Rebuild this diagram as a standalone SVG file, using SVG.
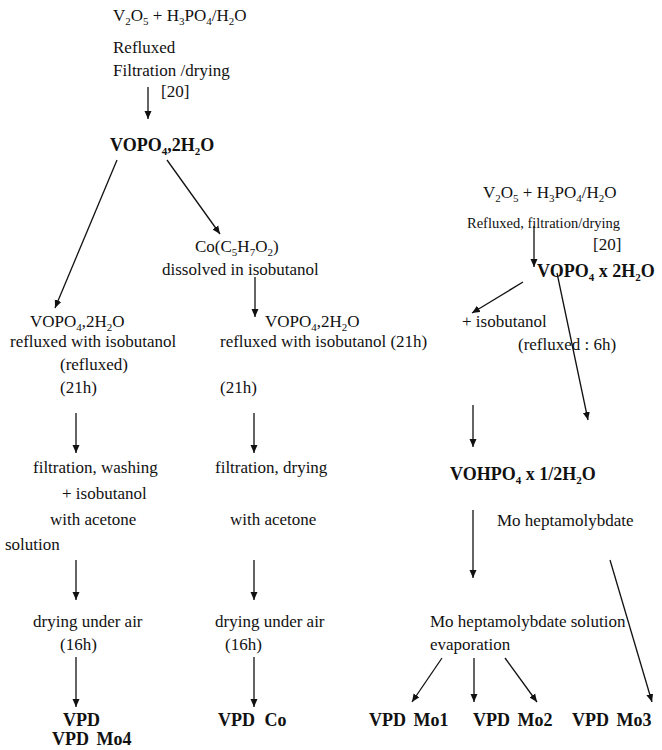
<svg xmlns="http://www.w3.org/2000/svg" width="662" height="750" viewBox="0 0 662 750">
<style>
text{font-family:"Liberation Serif","Times New Roman",serif;font-size:17px;fill:#111}
.b{font-weight:bold;font-size:18px}
.sm{font-size:14.5px}
.s{font-size:11px}
.cn line{stroke:#111;stroke-width:1.3;marker-end:url(#ah)}
</style>
<defs>
<marker id="ah" markerUnits="userSpaceOnUse" markerWidth="9" markerHeight="9" refX="8" refY="4" orient="auto">
<path d="M0,0.5 L8,4 L0,7.5 z" fill="#111"/>
</marker>
</defs>
<rect width="662" height="750" fill="#fff"/>

<g id="n-start-left">
<text x="113" y="21">V<tspan class="s" dy="4">2</tspan><tspan dy="-4">O</tspan><tspan class="s" dy="4">5</tspan><tspan dy="-4"> + H</tspan><tspan class="s" dy="4">3</tspan><tspan dy="-4">PO</tspan><tspan class="s" dy="4">4</tspan><tspan dy="-4">/H</tspan><tspan class="s" dy="4">2</tspan><tspan dy="-4">O</tspan></text>
<text x="113" y="53">Refluxed</text>
<text x="113" y="76">Filtration /drying</text>
<text x="161" y="97">[20]</text>
</g>
<g id="n-vopo4-left">
<text class="b" x="110" y="151">VOPO<tspan class="s" dy="4">4</tspan><tspan dy="-4">,2H</tspan><tspan class="s" dy="4">2</tspan><tspan dy="-4">O</tspan></text>
</g>
<g id="n-col1-reflux">
<text x="30" y="327">VOPO<tspan class="s" dy="4">4</tspan><tspan dy="-4">,2H</tspan><tspan class="s" dy="4">2</tspan><tspan dy="-4">O</tspan></text>
<text x="10" y="347">refluxed with isobutanol</text>
<text x="60" y="370">(refluxed)</text>
<text x="60" y="393">(21h)</text>
</g>
<g id="n-col1-filtration">
<text x="33" y="473">filtration, washing</text>
<text x="62" y="499">+ isobutanol</text>
<text x="50" y="525">with acetone</text>
<text x="5" y="550">solution</text>
</g>
<g id="n-col1-drying">
<text x="33" y="627">drying under air</text>
<text x="60" y="650">(16h)</text>
</g>
<g id="n-vpd">
<text class="b" x="63" y="726">VPD</text>
<text class="b" x="52" y="745">VPD <tspan dx="3">Mo4</tspan></text>
</g>

<g id="n-co">
<text x="195" y="252">Co(C<tspan class="s" dy="4">5</tspan><tspan dy="-4">H</tspan><tspan class="s" dy="4">7</tspan><tspan dy="-4">O</tspan><tspan class="s" dy="4">2</tspan><tspan dy="-4">)</tspan></text>
<text x="162" y="275">dissolved in isobutanol</text>
</g>
<g id="n-col2-reflux">
<text x="265" y="327">VOPO<tspan class="s" dy="4">4</tspan><tspan dy="-4">,2H</tspan><tspan class="s" dy="4">2</tspan><tspan dy="-4">O</tspan></text>
<text x="220" y="347">refluxed with isobutanol (21h)</text>
<text x="220" y="393">(21h)</text>
</g>
<g id="n-col2-filtration">
<text x="215" y="473">filtration, drying</text>
<text x="230" y="525">with acetone</text>
</g>
<g id="n-col2-drying">
<text x="215" y="627">drying under air</text>
<text x="225" y="650">(16h)</text>
</g>
<g id="n-vpd-co">
<text class="b" x="218" y="726">VPD <tspan dx="5">Co</tspan></text>
</g>

<g id="n-start-right">
<text x="483" y="198">V<tspan class="s" dy="4">2</tspan><tspan dy="-4">O</tspan><tspan class="s" dy="4">5</tspan><tspan dy="-4"> + H</tspan><tspan class="s" dy="4">3</tspan><tspan dy="-4">PO</tspan><tspan class="s" dy="4">4</tspan><tspan dy="-4">/H</tspan><tspan class="s" dy="4">2</tspan><tspan dy="-4">O</tspan></text>
<text class="sm" x="467" y="228">Refluxed, filtration/drying</text>
<text x="593" y="250">[20]</text>
</g>
<g id="n-vopo4-right">
<text class="b" x="537" y="277">VOPO<tspan class="s" dy="4">4</tspan><tspan dy="-4"> x 2H</tspan><tspan class="s" dy="4">2</tspan><tspan dy="-4">O</tspan></text>
</g>
<g id="n-isobutanol">
<text x="462" y="327">+ isobutanol</text>
<text x="518" y="350">(refluxed : 6h)</text>
</g>
<g id="n-vohpo4">
<text class="b" x="450" y="480">VOHPO<tspan class="s" dy="4">4</tspan><tspan dy="-4"> x 1/2H</tspan><tspan class="s" dy="4">2</tspan><tspan dy="-4">O</tspan></text>
</g>
<g id="n-mo-hepta">
<text x="497" y="526">Mo heptamolybdate</text>
</g>
<g id="n-mo-solution">
<text x="430" y="627">Mo heptamolybdate solution</text>
<text x="430" y="650">evaporation</text>
</g>
<g id="n-vpd-mo1"><text class="b" x="369" y="726">VPD <tspan dx="3">Mo1</tspan></text></g>
<g id="n-vpd-mo2"><text class="b" x="473" y="726">VPD <tspan dx="3">Mo2</tspan></text></g>
<g id="n-vpd-mo3"><text class="b" x="572" y="726">VPD <tspan dx="3">Mo3</tspan></text></g>

<g id="connectors" class="cn">
<line x1="148" y1="87" x2="148" y2="119"/>
<line x1="117" y1="160" x2="55" y2="308"/>
<line x1="167" y1="160" x2="220" y2="234"/>
<line x1="255" y1="277" x2="255" y2="317"/>
<line x1="76" y1="413" x2="76" y2="453"/>
<line x1="254" y1="413" x2="254" y2="453"/>
<line x1="76" y1="560" x2="76" y2="600"/>
<line x1="254" y1="560" x2="254" y2="600"/>
<line x1="76" y1="657" x2="76" y2="707"/>
<line x1="254" y1="657" x2="254" y2="707"/>
<line x1="534" y1="226" x2="534" y2="267"/>
<line x1="523" y1="282" x2="472" y2="313"/>
<line x1="557" y1="273" x2="588" y2="420"/>
<line x1="473" y1="405" x2="473" y2="447"/>
<line x1="473" y1="510" x2="473" y2="578"/>
<line x1="610" y1="560" x2="652" y2="702"/>
<line x1="442" y1="658" x2="412" y2="702"/>
<line x1="474" y1="658" x2="474" y2="702"/>
<line x1="505" y1="658" x2="537" y2="702"/>
</g>
</svg>
